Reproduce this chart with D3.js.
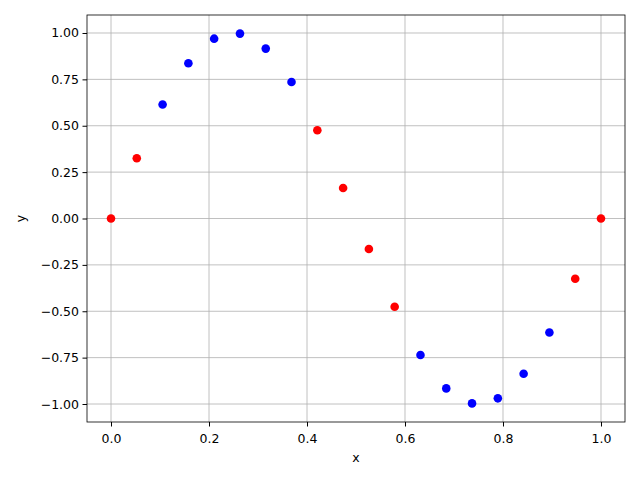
<!DOCTYPE html>
<html><head><meta charset="utf-8">
<script src="https://cdn.jsdelivr.net/npm/d3@7"></script>
<style>body{margin:0;background:#fff}text{font-family:"DejaVu Sans",sans-serif}</style>
</head><body><svg id="c" width="640" height="480"></svg>
<script>
const xs=[0,0.0526,0.1053,0.1579,0.2105,0.2632,0.3158,0.3684,0.4211,0.4737,0.5263,0.5789,0.6316,0.6842,0.7368,0.7895,0.8421,0.8947,0.9474,1];
const ys=[0,0.3247,0.6142,0.8372,0.9694,0.9966,0.9158,0.7357,0.4759,0.1646,-0.1646,-0.4759,-0.7357,-0.9158,-0.9966,-0.9694,-0.8372,-0.6142,-0.3247,0];
const colors=["red","red","blue","blue","blue","blue","blue","blue","red","red","red","red","blue","blue","blue","blue","blue","blue","red","red"];
const xTicks=[0,0.2,0.4,0.6,0.8,1.0];
const yTicks=[-1,-0.75,-0.5,-0.25,0,0.25,0.5,0.75,1];
const L=87,R=625,T=15,B=422;
const svg=d3.select("#c");
const x=d3.scaleLinear().domain([-0.049,1.049]).range([L,R]);
const y=d3.scaleLinear().domain([-1.097,1.097]).range([B,T]);
const g=svg.append("g");
g.selectAll(".gx").data(xTicks).join("line").attr("x1",d=>x(d)).attr("x2",d=>x(d)).attr("y1",T).attr("y2",B).attr("stroke","#b0b0b0").attr("stroke-width",0.8);
g.selectAll(".gy").data(yTicks).join("line").attr("y1",d=>y(d)).attr("y2",d=>y(d)).attr("x1",L).attr("x2",R).attr("stroke","#b0b0b0").attr("stroke-width",0.8);
const ax=svg.append("g").attr("transform",`translate(0,${B})`).call(d3.axisBottom(x).tickValues(xTicks).tickFormat(d3.format(".1f")).tickSize(4.5).tickSizeOuter(0));
const ay=svg.append("g").attr("transform",`translate(${L},0)`).call(d3.axisLeft(y).tickValues(yTicks).tickFormat(d3.format(".2f")).tickSize(4.5).tickSizeOuter(0));
[ax,ay].forEach(a=>{a.select(".domain").remove();a.selectAll("text").attr("font-size",12.5).attr("fill","#000").style("font-family","DejaVu Sans");a.selectAll("line").attr("stroke","#000");});
ax.selectAll("text").attr("y",9).attr("dy","0.95em");
ay.selectAll("text").attr("x",-8);
svg.append("rect").attr("x",L).attr("y",T).attr("width",R-L).attr("height",B-T).attr("fill","none").attr("stroke","#000").attr("stroke-width",0.8);
svg.selectAll(".pt").data(xs).join("circle").attr("cx",d=>x(d)).attr("cy",(d,i)=>y(ys[i])).attr("r",4.3).attr("fill",(d,i)=>colors[i]);
svg.append("text").attr("x",(L+R)/2).attr("y",462).attr("text-anchor","middle").attr("font-size",12.5).text("x");
svg.append("text").attr("transform",`translate(25,${(T+B)/2}) rotate(-90)`).attr("text-anchor","middle").attr("font-size",12.5).text("y");
</script></body></html>
